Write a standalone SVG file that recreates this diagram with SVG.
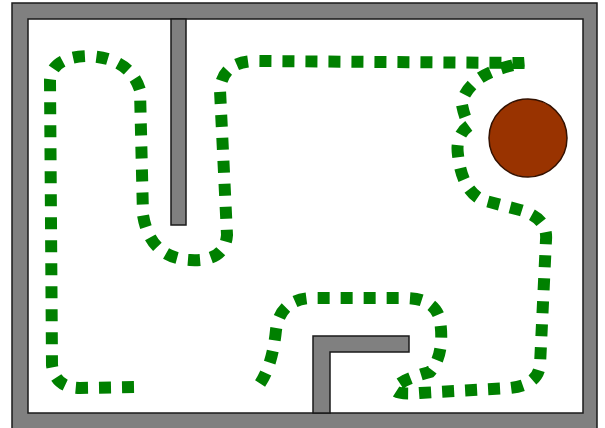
<svg xmlns="http://www.w3.org/2000/svg" width="605" height="428" viewBox="0 0 605 428">
<style>
.wall{fill:#808080;stroke:#1a1a1a;stroke-width:1.5}
.path{fill:none;stroke:#008000;stroke-width:12;stroke-dasharray:12 11}
</style>
<rect x="0" y="0" width="605" height="428" fill="#ffffff"/>
<g id="frame">
<rect x="12" y="3" width="585" height="430" fill="#808080" stroke="#1a1a1a" stroke-width="1.5"/>
<rect x="28" y="19" width="555" height="394" fill="#ffffff" stroke="#1a1a1a" stroke-width="1.5"/>
</g>
<g id="wall-top">
<rect class="wall" x="171" y="19" width="15" height="206"/>
</g>
<g id="wall-bottom">
<path class="wall" d="M313,413 L313,336 L409,336 L409,352 L330,352 L330,413 Z"/>
</g>
<g id="obstacle">
<circle cx="528" cy="138" r="39" fill="#993300" stroke="#331100" stroke-width="1.5"/>
</g>
<g id="connectors">
<path class="path" d="M134,387 L80,388 Q55,388 52,365 L50,80 Q52,57 88,56 Q130,58 140,90 L143,215 Q150,258 190,260 Q225,262 227,235 L220,90 Q222,62 255,61 L524,63 Q495,68 480,78 Q462,92 462,105 Q465,120 470,125 Q455,135 458,155 Q462,190 482,200 L520,210 Q548,218 546,240 L540,365 Q538,385 510,388 L420,393 Q392,395 395,388 Q400,380 430,372 Q445,355 440,320 Q435,298 405,298 L310,298 Q280,300 276,330 Q272,370 256,389"/>
</g>
</svg>
